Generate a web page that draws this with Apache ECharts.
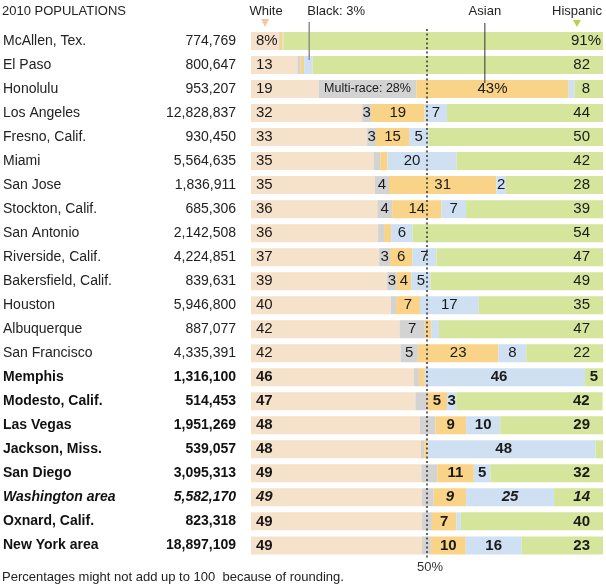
<!DOCTYPE html>
<html><head><meta charset="utf-8">
<script src="https://cdn.jsdelivr.net/npm/echarts@6/dist/echarts.min.js"></script>
<style>html,body{margin:0;padding:0;background:#fff}#c{width:606px;height:586px}</style>
</head><body><div id="c"></div>
<script>
// ---- data ----
const cities = ['McAllen, Tex.','El Paso','Honolulu','Los Angeles','Fresno, Calif.','Miami','San Jose','Stockton, Calif.','San Antonio','Riverside, Calif.','Bakersfield, Calif.','Houston','Albuquerque','San Francisco','Memphis','Modesto, Calif.','Las Vegas','Jackson, Miss.','San Diego','Washington area','Oxnard, Calif.','New York area'];
const populations = [774769,800647,953207,12828837,930450,5564635,1836911,685306,2142508,4224851,839631,5946800,887077,4335391,1316100,514453,1951269,539057,3095313,5582170,823318,18897109];
// segment widths (percent of population)
const white    = [7.9,13.2,19.2,31.6,33.0,34.8,35.2,35.9,36.1,36.4,38.7,39.7,42.2,42.5,46.3,46.7,48.0,48.3,48.4,48.6,48.6,48.6];
const multi    = [0.3,0.9,27.8,2.5,2.5,1.9,4.0,4.2,1.7,3.1,2.7,1.5,7.2,4.9,1.4,3.3,4.4,0.9,4.5,3.3,2.8,2.5];
const asian    = [0.8,1.0,43.2,15.2,9.4,2.1,30.5,14.0,2.0,6.3,4.1,6.8,1.8,22.9,1.7,5.7,8.7,1.0,10.4,9.2,6.9,9.9];
const black    = [0.2,2.4,1.7,6.4,5.5,19.6,2.7,7.0,6.1,6.9,5.5,16.7,2.2,7.9,45.5,2.6,9.7,47.7,4.7,25.0,1.3,15.9];
const hispanic = [90.8,82.5,8.1,44.3,49.6,41.6,27.6,38.9,54.1,47.3,49.0,35.3,46.6,21.8,5.1,41.6,29.2,2.1,32.0,13.9,40.4,23.1];
// printed labels
const whiteLbl    = ['8%','13','19','32','33','35','35','36','36','37','39','40','42','42','46','47','48','48','49','49','49','49'];
const multiLbl    = ['','','Multi-race: 28%','3','3','','4','4','','3','3','','7','5','','','','','','','',''];
const asianLbl    = ['','','43%','19','15','','31','14','','6','4','7','','23','','5','9','','11','9','7','10'];
const blackLbl    = ['','','','7','5','20','2','7','6','7','5','17','','8','46','3','10','48','5','25','','16'];
const hispanicLbl = ['91%','82','8','44','50','42','28','39','54','47','49','35','47','22','5','42','29','','32','14','40','23'];

// ---- styling ----
const FONT = "'Liberation Sans', Arial, sans-serif";
const rowStyle = cities.map((c,i)=> i===19 ? 'bi' : (i>=14 ? 'b' : 'n'));
const colors = {white:'#f6e2cb', multi:'#d3d3d3', asian:'#f9d387', black:'#cee0f2', hispanic:'#d5e59b'};

function fw(i){return rowStyle[i]==='n'?'normal':'bold';}
function fs(i){return rowStyle[i]==='bi'?'italic':'normal';}

function mkData(vals, lbls, kind){
  return vals.map((v,i)=>{
    const l = lbls[i];
    const lab = {show: !!l, formatter: l, fontWeight: fw(i), fontStyle: fs(i)};
    if (kind==='white'){ lab.position='insideLeft'; lab.distance=5; }
    else if (kind==='hispanic'){ lab.position='insideRight'; lab.distance = (i===0?2:(i===14?5:13)); }
    else { lab.position='inside'; }
    if (l.length > 6) lab.fontSize = 12.5;
    if (kind==='black' && i===5) lab.offset=[-10,0];
    if (kind==='black' && i===14) lab.offset=[-6,0];
    if (kind==='black' && i===17) lab.offset=[-8,0];
    return {value:v, label:lab};
  });
}

const chart = echarts.init(document.getElementById('c'), null, {renderer:'canvas'});
const labelBase = {color:'#1a1a1a', fontSize:15, fontFamily:FONT};
function series(name, vals, lbls, kind){
  return {
    name, type:'bar', stack:'t', barWidth:18, yAxisIndex:0,
    itemStyle:{color:colors[kind]},
    label: Object.assign({}, labelBase),
    emphasis:{disabled:true},
    data: mkData(vals, lbls, kind),
    silent:true, animation:false
  };
}
const s = [
  series('White', white, whiteLbl, 'white'),
  series('Multi-race', multi, multiLbl, 'multi'),
  series('Asian', asian, asianLbl, 'asian'),
  series('Black', black, blackLbl, 'black'),
  series('Hispanic', hispanic, hispanicLbl, 'hispanic')
];
s[4].markLine = {
  silent:true, symbol:'none', animation:false,
  lineStyle:{type:[2,2.5], color:'#333', width:1.5},
  label:{show:true, position:'end', formatter:'50%', color:'#333', fontSize:13, fontFamily:FONT, distance:4, offset:[3,0]},
  data:[{xAxis:50}]
};

const rich = {
  n:{fontSize:14, color:'#222', fontFamily:FONT},
  b:{fontSize:14, color:'#111', fontFamily:FONT, fontWeight:'bold'},
  bi:{fontSize:14, color:'#111', fontFamily:FONT, fontWeight:'bold', fontStyle:'italic'}
};
const popStr = populations.map(p=>p.toLocaleString('en-US'));

chart.setOption({
  animation:false,
  grid:{left:250, right:3, top:29, bottom:28.6, containLabel:false},
  xAxis:{type:'value', min:0, max:100, show:false},
  yAxis:[
    {type:'category', data:cities, inverse:true, axisLine:{show:false}, axisTick:{show:false},
     axisLabel:{align:'left', margin:248, formatter:(v,i)=>'{'+rowStyle[i]+'|'+v+'}', rich}},
    {type:'category', data:cities, inverse:true, position:'left', axisLine:{show:false}, axisTick:{show:false},
     axisLabel:{align:'right', margin:15, formatter:(v,i)=>'{'+rowStyle[i]+'|'+popStr[i]+'}', rich}}
  ],
  series:s
});

// ---- annotations anchored to the axes ----
const px = (x, row) => chart.convertToPixel({xAxisIndex:0, yAxisIndex:0}, [x, row]);
const elPaso = 1, honolulu = 2;
const blackX = px(white[elPaso]+multi[elPaso]+asian[elPaso]+black[elPaso]*0.6, elPaso);
const asianX = px(white[honolulu]+multi[honolulu]+asian[honolulu]*0.45, honolulu);
const whiteX = px(4, 0)[0];
const hispX = px(92.6, 0)[0];
const headY = 11;
const Z = 100;
const txt = (x, y, t, align) => ({type:'text', z:Z, x, y, style:{text:t, fill:'#222', font:'13px '+FONT, textAlign:align, textVerticalAlign:'middle'}});
chart.setOption({graphic:[
  txt(2, headY, '2010 POPULATIONS', 'left'),
  txt(whiteX+1, headY, 'White', 'center'),
  {type:'polygon', z:Z, shape:{points:[[whiteX-4,19],[whiteX+4,19],[whiteX,27]]}, style:{fill:'#f5c6a5'}},
  txt(blackX[0]-2, headY, 'Black: 3%', 'left'),
  {type:'line', z:Z, shape:{x1:blackX[0], y1:22, x2:blackX[0], y2:blackX[1]-5}, style:{stroke:'#8f8f8f', lineWidth:1.5}},
  txt(asianX[0], headY, 'Asian', 'center'),
  {type:'line', z:Z, shape:{x1:asianX[0], y1:23, x2:asianX[0], y2:asianX[1]-6}, style:{stroke:'#333', lineWidth:1}},
  txt(hispX, headY, 'Hispanic', 'center'),
  {type:'polygon', z:Z, shape:{points:[[hispX-4,20],[hispX+4,20],[hispX,27]]}, style:{fill:'#b7d24c'}},
  txt(2, 577, 'Percentages might not add up to 100  because of rounding.', 'left')
]});
</script></body></html>
